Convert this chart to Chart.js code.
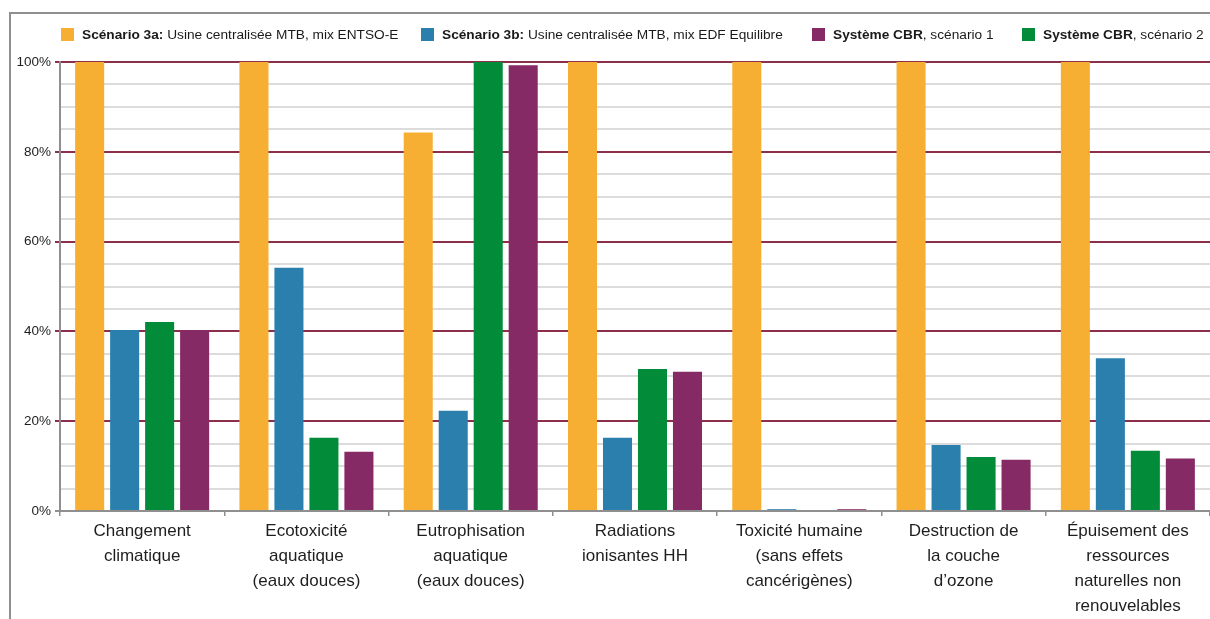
<!DOCTYPE html>
<html>
<head>
<meta charset="utf-8">
<script src="https://cdn.jsdelivr.net/npm/chart.js@4.4.1/dist/chart.umd.min.js"></script>
<style>
  body { margin: 0; background: #fff; font-family: "Liberation Sans", Arial, sans-serif; }
  #wrap { position: relative; width: 1210px; height: 619px; overflow: hidden; }
  #frame { position: absolute; left: 9px; top: 12px; right: -10px; bottom: -10px;
           border-top: 2px solid #8f8f8f; border-left: 2px solid #8f8f8f; }
  canvas { position: absolute; left: 0; top: 0; }
  .item { position: absolute; top: 27px; height: 16px; white-space: nowrap; }
  .box { position: absolute; left: 0; top: 1px; width: 13px; height: 13px; }
  .txt { position: absolute; left: 21px; top: 0; font-size: 13.7px; line-height: 16px; color: #1a1a1a; }
</style>
</head>
<body>
<div id="wrap">
  <div id="frame"></div>
  <canvas id="myChart" width="1210" height="619"></canvas>
  <div id="legend"></div>
</div>
<script>
// categories (x axis), multi-line labels
const categories = [
  ["Changement", "climatique"],
  ["Ecotoxicité", "aquatique", "(eaux douces)"],
  ["Eutrophisation", "aquatique", "(eaux douces)"],
  ["Radiations", "ionisantes HH"],
  ["Toxicité humaine", "(sans effets", "cancérigènes)"],
  ["Destruction de", "la couche", "d’ozone"],
  ["Épuisement des", "ressources", "naturelles non", "renouvelables"],
];

// series values in %
const scenario3a = [100, 100, 84.3, 100, 100, 100, 100];
const scenario3b = [40.3, 54.2, 22.3, 16.3, 0.4, 14.7, 34.0];
const cbrScenario2 = [42.1, 16.3, 100, 31.6, 0, 12.0, 13.4];
const cbrScenario1 = [40.3, 13.2, 99.3, 31.0, 0.4, 11.4, 11.7];

// y tick labels (only every 20%, minor lines every 5%)
const yTickLabels = ["0%", "20%", "40%", "60%", "80%", "100%"];

// legend text: bold part + normal part, in legend order
const legendBold = ["Scénario 3a:", "Scénario 3b:", "Système CBR", "Système CBR"];
const legendRest = [" Usine centralisée MTB, mix ENTSO-E", " Usine centralisée MTB, mix EDF Equilibre", ", scénario 1", ", scénario 2"];

const colors = {
  orange: "#F7AF33",
  blue: "#2A7FAC",
  green: "#028C3A",
  purple: "#862A65",
};
const gridMajor = "#8B3048";
const gridMinor = "#DCDCDC";
const axisGray = "#8F8F8F";

// bars are drawn orange, blue, green, purple
const datasets = [
  { label: legendBold[0] + legendRest[0], data: scenario3a, backgroundColor: colors.orange, legendIdx: 0 },
  { label: legendBold[1] + legendRest[1], data: scenario3b, backgroundColor: colors.blue, legendIdx: 1 },
  { label: legendBold[3] + legendRest[3], data: cbrScenario2, backgroundColor: colors.green, legendIdx: 3 },
  { label: legendBold[2] + legendRest[2], data: cbrScenario1, backgroundColor: colors.purple, legendIdx: 2 },
];

// html legend, positions of the legend boxes
const legendX = [61, 421, 812, 1022];
const legendDiv = document.getElementById("legend");
for (const ds of datasets) {
  const i = ds.legendIdx;
  const item = document.createElement("div");
  item.className = "item";
  item.style.left = legendX[i] + "px";
  const box = document.createElement("div");
  box.className = "box";
  box.style.background = ds.backgroundColor;
  const txt = document.createElement("span");
  txt.className = "txt";
  const b = document.createElement("b");
  b.textContent = legendBold[i];
  txt.append(b, document.createTextNode(legendRest[i]));
  item.append(box, txt);
  legendDiv.append(item);
}

const isMajor = (v) => v % 20 === 0;

const ctx = document.querySelector("#myChart").getContext("2d");
new Chart(ctx, {
  type: "bar",
  data: { labels: categories, datasets: datasets },
  options: {
    responsive: false,
    animation: false,
    layout: { padding: { left: 10, right: 0, top: 62, bottom: 0 } },
    datasets: { bar: { categoryPercentage: 0.852, barPercentage: 0.83 } },
    plugins: { legend: { display: false }, tooltip: { enabled: false } },
    scales: {
      x: {
        afterFit: (s) => { s.height = 108; },
        border: { color: axisGray, width: 2 },
        grid: { offset: true, drawOnChartArea: false, tickLength: 5, color: axisGray, lineWidth: 1.5 },
        ticks: {
          padding: 3,
          color: "#1e1e1e",
          font: { family: "'Liberation Sans', Arial, sans-serif", size: 17, lineHeight: 1.47 },
          maxRotation: 0,
          autoSkip: false,
        },
      },
      y: {
        min: 0,
        max: 100,
        afterFit: (s) => { s.width = 50; },
        border: { color: axisGray, width: 2 },
        grid: {
          color: (c) => (c.tick.value === 0 ? axisGray : isMajor(c.tick.value) ? gridMajor : gridMinor),
          tickColor: (c) => (c.tick.value === 0 ? axisGray : isMajor(c.tick.value) ? gridMajor : "rgba(0,0,0,0)"),
          lineWidth: 2,
          tickLength: 5,
        },
        ticks: {
          stepSize: 5,
          autoSkip: false,
          padding: 4,
          color: "#1e1e1e",
          font: { family: "'Liberation Sans', Arial, sans-serif", size: 13.5 },
          callback: (v) => (isMajor(v) ? yTickLabels[v / 20] : ""),
        },
      },
    },
  },
});
</script>
</body>
</html>
